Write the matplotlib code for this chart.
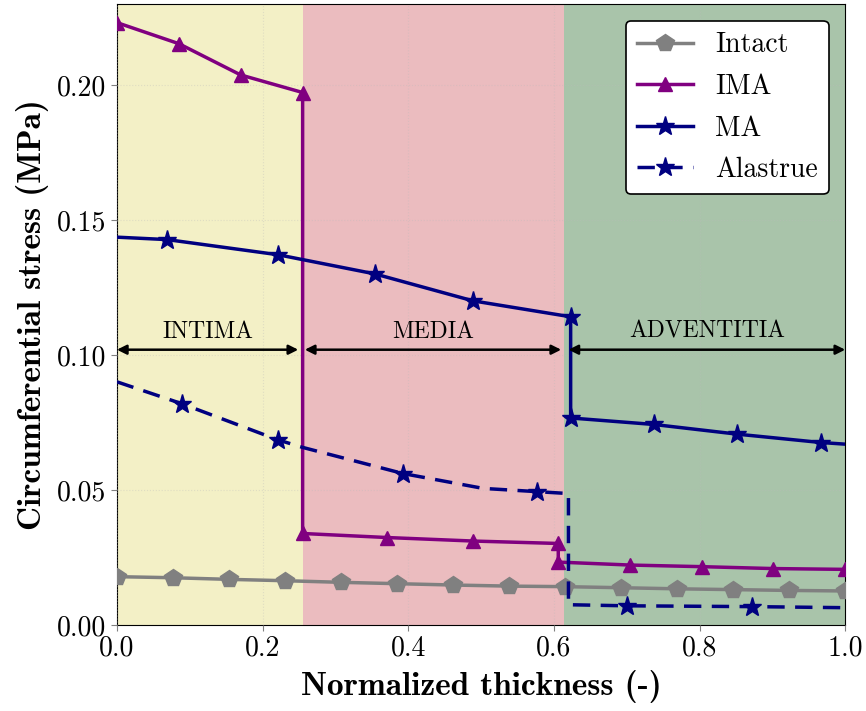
import matplotlib
matplotlib.use("Agg")
import matplotlib.pyplot as plt

plt.rcParams['font.family'] = 'serif'
plt.rcParams['font.serif'] = ['cmr10']
plt.rcParams['mathtext.fontset'] = 'cm'
plt.rcParams['axes.formatter.use_mathtext'] = True

# layer boundaries (normalized thickness)
layers = ['INTIMA', 'MEDIA', 'ADVENTITIA']
layer_edges = [0.0, 0.255, 0.614, 1.0]
layer_colors = ['#f3f0c6', '#ebbcbf', '#a9c4aa']
arrow_spans = [(0.0, 0.249), (0.258, 0.610), (0.620, 1.0)]
arrow_y = 0.102

intact_x = [0.0, 0.077, 0.154, 0.231, 0.308, 0.385, 0.462, 0.538,
            0.615, 0.692, 0.769, 0.846, 0.923, 1.0]
intact_y = [0.0179, 0.0175, 0.0169, 0.0164, 0.0158, 0.0153, 0.0148,
            0.0144, 0.0142, 0.0138, 0.0134, 0.0131, 0.0128, 0.0126]

ima_x = [0.0, 0.085, 0.17, 0.255, 0.255, 0.371, 0.489, 0.606,
         0.606, 0.705, 0.804, 0.901, 1.0]
ima_y = [0.2232, 0.2154, 0.2038, 0.1973, 0.0339, 0.0324, 0.0311, 0.0302,
         0.0233, 0.0222, 0.0216, 0.0209, 0.0206]

ma_x = [0.0, 0.069, 0.221, 0.354, 0.489, 0.623, 0.623, 0.737, 0.852, 0.967, 1.0]
ma_y = [0.1437, 0.1428, 0.1372, 0.1301, 0.1201, 0.1142, 0.0767,
        0.0743, 0.0707, 0.0676, 0.0670]
ma_marks = [1, 2, 3, 4, 5, 6, 7, 8, 9]

alas_x = [0.0, 0.089, 0.221, 0.255, 0.393, 0.503, 0.577, 0.62, 0.62,
          0.70, 0.872, 1.0]
alas_y = [0.0901, 0.0820, 0.0686, 0.0658, 0.0561, 0.0506, 0.0494, 0.0487,
          0.0075, 0.0071, 0.0068, 0.0064]
alas_marks = [1, 2, 4, 6, 9, 10]

fig = plt.figure(figsize=(8.66, 7.11), dpi=100)
ax = fig.add_axes([0.135, 0.121, 0.841, 0.873])

for i in range(len(layers)):
    ax.axvspan(layer_edges[i], layer_edges[i + 1], color=layer_colors[i], zorder=0, lw=0)

ax.plot(intact_x, intact_y, '-', color='gray', marker='p', ms=13, lw=2.5,
        label='Intact', zorder=3)
ax.plot(ima_x, ima_y, '-', color='purple', marker='^', ms=10, lw=2.5,
        label='IMA', zorder=3)
ax.plot(ma_x, ma_y, '-', color='navy', marker='*', ms=14, lw=2.5,
        markevery=ma_marks, label='MA', zorder=3)
ax.plot(alas_x, alas_y, '--', color='navy', marker='*', ms=14, lw=2.5,
        dashes=(5, 3), markevery=alas_marks, label='Alastrue', zorder=3)

for name, (a, b) in zip(layers, arrow_spans):
    ax.annotate('', xy=(a, arrow_y), xytext=(b, arrow_y),
                arrowprops=dict(arrowstyle='<|-|>', color='black', lw=1.8,
                                mutation_scale=14, shrinkA=0, shrinkB=0), zorder=4)
    ax.text((a + b) / 2, arrow_y + 0.0025, name, ha='center', va='bottom',
            fontsize=17, zorder=4)

ax.set_xlim(0, 1)
ax.set_ylim(0, 0.23)
ax.set_xticks([0.0, 0.2, 0.4, 0.6, 0.8, 1.0])
ax.set_yticks([0.0, 0.05, 0.10, 0.15, 0.20])
ax.set_xticklabels(['0.0', '0.2', '0.4', '0.6', '0.8', '1.0'])
ax.set_yticklabels(['0.00', '0.05', '0.10', '0.15', '0.20'])
ax.tick_params(labelsize=20, color='gray', length=4)
ax.grid(True, ls=':', lw=0.8, color='#bbbbbb', alpha=0.35)
ax.set_axisbelow(False)

ax.set_xlabel('Normalized thickness (-)', fontsize=24, family='cmb10', labelpad=6)
ax.set_ylabel('Circumferential stress (MPa)', fontsize=24, family='cmb10', labelpad=6)

leg = ax.legend(loc='upper right', fontsize=20, frameon=True, framealpha=1,
                edgecolor='black', fancybox=True, handlelength=2.0,
                labelspacing=0.55, borderaxespad=0.6)
leg.get_frame().set_linewidth(1.2)

fig.savefig('out.png', dpi=100)
